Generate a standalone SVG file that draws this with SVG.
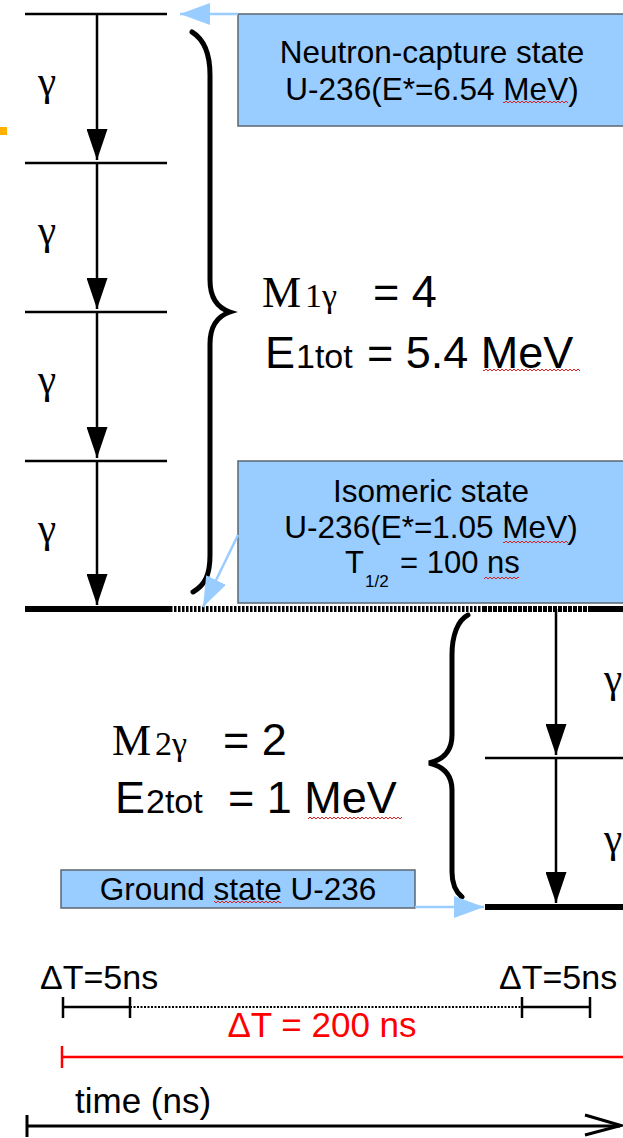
<svg xmlns="http://www.w3.org/2000/svg" width="623" height="1138" viewBox="0 0 623 1138">
<defs>
<style>
.lvl{stroke:#000;stroke-width:2.5;fill:none}
.thick{stroke:#000;stroke-width:6;fill:none}
.g{stroke:#000;stroke-width:2.5;fill:none;marker-end:url(#ah)}
.blue{stroke:#99ccff;stroke-width:2.5;fill:none;marker-end:url(#bh)}
.box{fill:#99ccff;stroke:#5c6670;stroke-width:1.5}
.brace{stroke:#000;stroke-width:5;fill:none;stroke-linecap:round}
.sans{font-family:"Liberation Sans",Arial,sans-serif;fill:#000}
.serif{font-family:"Liberation Serif","Times New Roman",serif;fill:#000}
.bt{font-size:31.5px;text-anchor:middle}
.big{font-size:45px}
.sub{font-size:34px}
.gam{font-size:41px}
.tm{font-size:35px}
.tl{stroke:#000;stroke-width:2.5;fill:none}
</style>
<marker id="ah" markerUnits="userSpaceOnUse" markerWidth="31" markerHeight="21" refX="31" refY="10.5" orient="auto">
<path d="M0,0 L31,10.5 L0,21 z" fill="#000"/>
</marker>
<marker id="bh" markerUnits="userSpaceOnUse" markerWidth="30" markerHeight="22" refX="30" refY="11" orient="auto">
<path d="M0,0 L30,11 L0,22 z" fill="#99ccff"/>
</marker>
<pattern id="sq" width="4" height="4" patternUnits="userSpaceOnUse">
<path d="M0,3 L2,1 L4,3" stroke="#e02020" stroke-width="1" fill="none"/>
</pattern>
</defs>
<rect width="623" height="1138" fill="#fff"/>

<rect x="0" y="127" width="7" height="8" fill="#ffb000"/>

<g id="levels">
<line class="lvl" x1="25" y1="14" x2="167" y2="14"/>
<line class="lvl" x1="25" y1="163" x2="167" y2="163"/>
<line class="lvl" x1="25" y1="312" x2="167" y2="312"/>
<line class="lvl" x1="25" y1="461" x2="167" y2="461"/>
<line class="thick" x1="25" y1="609" x2="170" y2="609"/>
<line class="thick" x1="170" y1="609" x2="483" y2="609" stroke-dasharray="2.5 1.5"/>
<line class="thick" x1="483" y1="609" x2="590" y2="609" stroke-dasharray="4 1"/>
<line class="thick" x1="590" y1="609" x2="623" y2="609"/>
<line class="lvl" x1="485" y1="758" x2="623" y2="758"/>
<line class="thick" x1="485" y1="907" x2="623" y2="907"/>
</g>

<g id="neutron-capture">
<rect class="box" x="238" y="14" width="392" height="112"/>
<text class="sans bt" x="432" y="63">Neutron-capture state</text>
<text class="sans bt" x="432" y="100">U-236(E*=6.54 MeV)</text>
<rect x="503" y="100" width="65" height="4" fill="url(#sq)"/>
</g>

<g id="isomeric">
<rect class="box" x="238" y="461" width="392" height="142"/>
<text class="sans bt" x="431" y="502">Isomeric state</text>
<text class="sans bt" x="431" y="538">U-236(E*=1.05 MeV)</text>
<text class="sans" font-size="31" x="345" y="573">T</text>
<text class="sans" font-size="17" x="365" y="587">1/2</text>
<text class="sans" font-size="31" x="400" y="573">= 100 ns</text>
<rect x="503" y="540" width="65" height="4" fill="url(#sq)"/>
<rect x="484" y="576" width="35" height="4" fill="url(#sq)"/>
</g>

<g id="ground-state">
<rect class="box" x="61" y="870" width="354" height="38"/>
<text class="sans bt" x="238" y="900">Ground state U-236</text>
<rect x="214" y="900" width="67" height="4" fill="url(#sq)"/>
</g>

<g id="gammas-left">
<text class="serif gam" x="47" y="95" text-anchor="middle">γ</text>
<text class="serif gam" x="47" y="244" text-anchor="middle">γ</text>
<text class="serif gam" x="47" y="393" text-anchor="middle">γ</text>
<text class="serif gam" x="47" y="542" text-anchor="middle">γ</text>
</g>
<g id="gammas-right">
<text class="serif gam" x="604" y="692">γ</text>
<text class="serif gam" x="604" y="852">γ</text>
</g>

<g id="sum1">
<text x="262" y="307"><tspan class="serif" font-size="44">M</tspan><tspan class="serif" font-size="34" x="305">1γ</tspan><tspan class="sans big" x="373">= 4</tspan></text>
<text x="265" y="368"><tspan class="sans big">E</tspan><tspan class="sans sub" x="296">1tot</tspan><tspan class="sans big" x="367">= 5.4 MeV</tspan></text>
<rect x="483" y="368" width="97" height="4" fill="url(#sq)"/>
</g>

<g id="sum2">
<text x="112" y="755"><tspan class="serif" font-size="44">M</tspan><tspan class="serif" font-size="34" x="155">2γ</tspan><tspan class="sans big" x="223">= 2</tspan></text>
<text x="115" y="813"><tspan class="sans big">E</tspan><tspan class="sans sub" x="146">2tot</tspan><tspan class="sans big" x="228">= 1 MeV</tspan></text>
<rect x="308" y="816" width="94" height="4" fill="url(#sq)"/>
</g>

<g id="braces">
<path class="brace" d="M192,32 C205,40 210,55 210,75 L210,280 C210,298 218,308 230,312 C218,316 210,326 210,344 L210,555 C210,575 205,585 193,592"/>
<path class="brace" d="M468,615 C458,620 452,635 452,655 L452,735 C452,752 442,760 429,763 C442,766 452,774 452,790 L452,872 C452,885 456,892 462,897"/>
</g>

<g id="connectors">
<line class="g" x1="97" y1="14" x2="97" y2="160"/>
<line class="g" x1="97" y1="163" x2="97" y2="309"/>
<line class="g" x1="97" y1="312" x2="97" y2="458"/>
<line class="g" x1="97" y1="461" x2="97" y2="605"/>
<line class="g" x1="556" y1="609" x2="556" y2="755"/>
<line class="g" x1="556" y1="758" x2="556" y2="903"/>
<line class="blue" x1="238" y1="14" x2="180" y2="14"/>
<line class="blue" x1="238" y1="535" x2="203" y2="607"/>
<line class="blue" x1="415" y1="907" x2="484" y2="907"/>
</g>

<g id="timing">
<text class="sans" font-size="34" x="40" y="989">ΔT=5ns</text>
<text class="sans" font-size="34" x="499" y="989">ΔT=5ns</text>
<line class="tl" x1="63" y1="997" x2="63" y2="1018"/>
<line class="tl" x1="63" y1="1007" x2="130" y2="1007"/>
<line class="tl" x1="130" y1="997" x2="130" y2="1018"/>
<line x1="130" y1="1007" x2="522" y2="1007" stroke="#000" stroke-width="2" stroke-dasharray="2 1.5"/>
<line class="tl" x1="522" y1="997" x2="522" y2="1018"/>
<line class="tl" x1="522" y1="1007" x2="590" y2="1007"/>
<line class="tl" x1="590" y1="997" x2="590" y2="1018"/>
<text class="sans tm" x="322" y="1037" text-anchor="middle" style="fill:#ff0000">ΔT = 200 ns</text>
<line x1="62" y1="1057" x2="623" y2="1057" stroke="#ff0000" stroke-width="2.5"/>
<line x1="62" y1="1046" x2="62" y2="1068" stroke="#ff0000" stroke-width="2.5"/>
<text class="sans tm" x="75" y="1113">time (ns)</text>
<line x1="27" y1="1126" x2="620" y2="1126" stroke="#000" stroke-width="3"/>
<line x1="27" y1="1115" x2="27" y2="1137" stroke="#000" stroke-width="3"/>
<polyline points="585,1115 621,1125.5 585,1135" stroke="#000" stroke-width="3" fill="none"/>
</g>
</svg>
